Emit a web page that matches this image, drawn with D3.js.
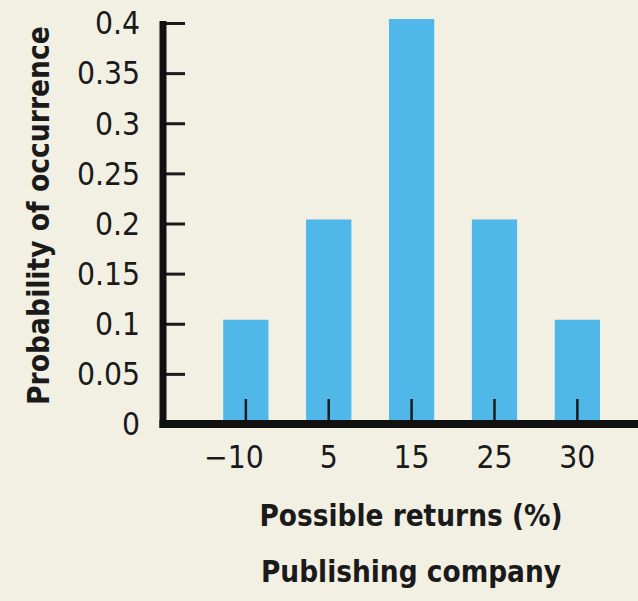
<!DOCTYPE html>
<html>
<head>
<meta charset="utf-8">
<script src="https://cdn.jsdelivr.net/npm/d3@7"></script>
<style>
  html, body { margin: 0; padding: 0; background: #F2EFE3; }
  svg { display: block; }
  text { font-family: "DejaVu Sans Condensed", "DejaVu Sans", sans-serif; font-stretch: condensed; fill: #1a1a1a; }
</style>
</head>
<body>
<svg id="chart" width="638" height="601"></svg>
<script>
const categories = ["−10", "5", "15", "25", "30"];
const probabilities = [0.1, 0.2, 0.4, 0.2, 0.1];
const yTicks = [0, 0.05, 0.1, 0.15, 0.2, 0.25, 0.3, 0.35, 0.4];
const yTickLabels = ["0", "0.05", "0.1", "0.15", "0.2", "0.25", "0.3", "0.35", "0.4"];
const xTitle = "Possible returns (%)";
const yTitle = "Probability of occurrence";
const subTitle = "Publishing company";

const svg = d3.select("#chart");
svg.append("rect").attr("width", 638).attr("height", 601).attr("fill", "#F2EFE3");

const axisX = 163, baseY = 424;
const y = d3.scaleLinear().domain([0, 0.4]).range([baseY, 23]);
const x = d3.scaleBand().domain(categories).range([204.4, 618.8]).paddingInner(0.454).paddingOuter(0.227);

// bars
svg.append("g").selectAll("rect").data(probabilities).join("rect")
  .attr("x", (d, i) => x(categories[i]))
  .attr("width", x.bandwidth())
  .attr("y", d => y(d) - 4)
  .attr("height", d => baseY - y(d) + 4)
  .attr("fill", "#4FB8E8");

// y axis
const yAxis = d3.axisRight(y).tickValues(yTicks).tickSize(22).tickFormat("");
const gy = svg.append("g").attr("transform", `translate(${axisX},0)`).call(yAxis);
gy.select(".domain").remove();
gy.selectAll(".tick line").attr("stroke", "#1a1a1a").attr("stroke-width", 3);
// y tick labels
svg.append("g").selectAll("text").data(yTicks).join("text")
  .attr("x", 140)
  .attr("y", d => y(d))
  .attr("dy", "0.36em")
  .attr("text-anchor", "end")
  .attr("font-size", 31.5)
  .text((d, i) => yTickLabels[i]);

// x axis ticks (inside bars)
const xAxis = d3.axisTop(x).tickSize(25).tickFormat("");
const gx = svg.append("g").attr("transform", `translate(0,${baseY})`).call(xAxis);
gx.select(".domain").remove();
gx.selectAll(".tick line").attr("stroke", "#1a1a1a").attr("stroke-width", 2.5);

// axis lines
svg.append("line").attr("x1", axisX).attr("x2", axisX).attr("y1", 21).attr("y2", baseY + 4)
  .attr("stroke", "#111").attr("stroke-width", 7);
svg.append("line").attr("x1", axisX - 3.5).attr("x2", 638).attr("y1", baseY).attr("y2", baseY)
  .attr("stroke", "#111").attr("stroke-width", 8);

// x tick labels
const xl = svg.append("g").selectAll("text").data(categories).join("text")
  .attr("x", d => x(d) + x.bandwidth() / 2)
  .attr("y", 468)
  .attr("text-anchor", "middle")
  .attr("font-size", 31.5)
  .text(d => d);
xl.each(function(d) {
  if (d.startsWith("−")) {
    const w = this.getSubStringLength(0, 1);
    d3.select(this).attr("dx", -w / 2);
  }
});

// titles
svg.append("text").attr("x", 411).attr("y", 526).attr("text-anchor", "middle")
  .attr("font-size", 29.4).attr("font-weight", "bold").text(xTitle);
svg.append("text").attr("x", 411).attr("y", 582).attr("text-anchor", "middle")
  .attr("font-size", 29.4).attr("font-weight", "bold").text(subTitle);
svg.append("text").attr("transform", "translate(48.5,215.5) rotate(-90)")
  .attr("text-anchor", "middle")
  .attr("font-size", 29.6).attr("font-weight", "bold").text(yTitle);
</script>
</body>
</html>
